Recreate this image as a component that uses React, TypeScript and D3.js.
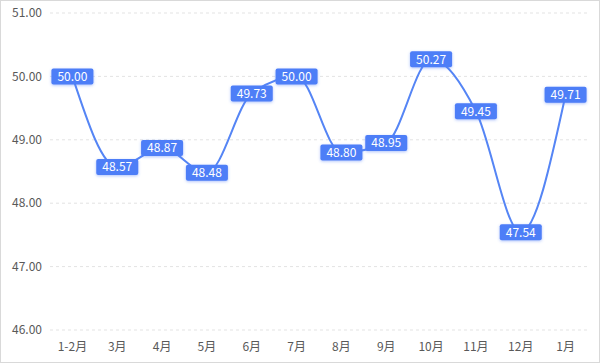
import { useEffect, useRef } from "react";
import * as d3 from "d3";

const months = ["1-2月", "3月", "4月", "5月", "6月", "7月", "8月", "9月", "10月", "11月", "12月", "1月"];
const values = [50.0, 48.57, 48.87, 48.48, 49.73, 50.0, 48.8, 48.95, 50.27, 49.45, 47.54, 49.71];
const yTicks = [46, 47, 48, 49, 50, 51];

export default function App() {
  const ref = useRef<SVGSVGElement | null>(null);

  useEffect(() => {
    const svgEl = ref.current;
    if (!svgEl) return;
    const width = 600;
    const height = 363;
    const margin = { top: 13, right: 12, bottom: 33, left: 50 };

    const svg = d3.select(svgEl);
    svg.selectAll("*").remove();
    svg.attr("width", width).attr("height", height);

    const font = "'Noto Sans CJK SC', 'Noto Sans', sans-serif";

    const defs = svg.append("defs");
    const f = defs.append("filter").attr("id", "sh").attr("x", "-30%").attr("y", "-50%").attr("width", "160%").attr("height", "200%");
    f.append("feDropShadow").attr("dx", 0).attr("dy", 1).attr("stdDeviation", 1.5).attr("flood-color", "#4e7cf6").attr("flood-opacity", 0.45);

    // frame
    svg.append("rect")
      .attr("x", 0.5).attr("y", 0.5)
      .attr("width", width - 1).attr("height", height - 1)
      .attr("fill", "#fff").attr("stroke", "#d9d9d9");

    const x = d3.scalePoint<string>()
      .domain(months)
      .range([margin.left, width - margin.right])
      .padding(0.5);
    const y = d3.scaleLinear().domain([46, 51]).range([height - margin.bottom, margin.top]);

    // grid
    svg.append("g")
      .selectAll("line")
      .data(yTicks)
      .enter()
      .append("line")
      .attr("x1", margin.left)
      .attr("x2", width - margin.right)
      .attr("y1", (d) => y(d))
      .attr("y2", (d) => y(d))
      .attr("stroke", "#e3e3e3")
      .attr("stroke-dasharray", "3,3");

    // y labels
    svg.append("g")
      .selectAll("text")
      .data(yTicks)
      .enter()
      .append("text")
      .attr("x", 42)
      .attr("y", (d) => y(d))
      .attr("dy", "0.35em")
      .attr("text-anchor", "end")
      .attr("font-family", font)
      .attr("font-size", 12)
      .attr("fill", "#595959")
      .text((d) => d.toFixed(2));

    // x labels
    svg.append("g")
      .selectAll("text")
      .data(months)
      .enter()
      .append("text")
      .attr("x", (d) => x(d)!)
      .attr("y", height - 12)
      .attr("text-anchor", "middle")
      .attr("font-family", font)
      .attr("font-size", 12)
      .attr("fill", "#595959")
      .text((d) => d);

    // line
    const line = d3.line<number>()
      .x((_, i) => x(months[i])!)
      .y((d) => y(d))
      .curve(d3.curveMonotoneX);

    svg.append("path")
      .datum(values)
      .attr("d", line)
      .attr("fill", "none")
      .attr("stroke", "#5585f5")
      .attr("stroke-width", 2);

    // value tags
    const tags = svg.append("g")
      .selectAll("g")
      .data(values)
      .enter()
      .append("g")
      .attr("transform", (d, i) => `translate(${x(months[i])},${y(d)})`);

    tags.append("rect")
      .attr("x", -21)
      .attr("y", -8)
      .attr("width", 42)
      .attr("height", 16)
      .attr("rx", 2)
      .attr("fill", "#4e7ef7")
      .attr("filter", "url(#sh)");

    tags.append("text")
      .attr("text-anchor", "middle")
      .attr("dy", "0.36em")
      .attr("font-family", font)
      .attr("font-size", 12)
      .attr("fill", "#fff")
      .text((d) => d.toFixed(2));
  }, []);

  return (
    <div style={{ position: "fixed", left: 0, top: 0 }}>
      <svg ref={ref} style={{ display: "block" }} />
    </div>
  );
}
